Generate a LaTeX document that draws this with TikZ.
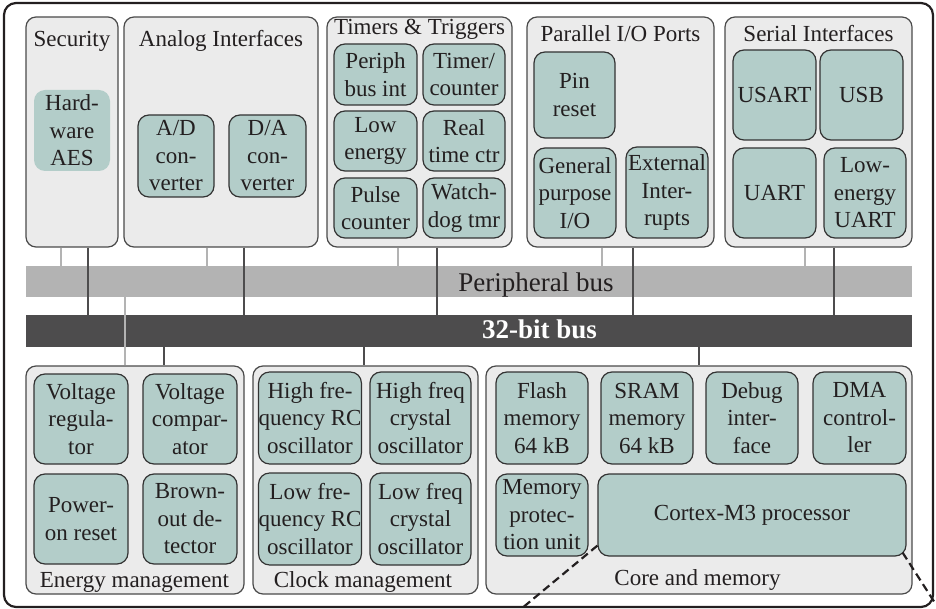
\documentclass[tikz,border=0pt]{standalone}
\usepackage{fontspec}
\setmainfont{Liberation Serif}
\definecolor{grpfill}{HTML}{EBEBEB}
\definecolor{grpline}{HTML}{4A4A4A}
\definecolor{blkfill}{HTML}{B3CDC9}
\definecolor{blkline}{HTML}{333333}
\definecolor{pbusc}{HTML}{B3B3B3}
\definecolor{cbusc}{HTML}{4D4C4D}
\definecolor{inkc}{HTML}{231F20}
\newcommand{\boxfont}{\fontsize{23}{27.5}\selectfont}
\newcommand{\busfont}{\fontsize{27}{31}\selectfont}
\begin{document}
\begin{tikzpicture}[x=1pt,y=-1pt,text=inkc,
  frame/.style={draw=inkc,line width=2.2pt,rounded corners=12pt,inner sep=0pt},
  grp/.style={draw=grpline,fill=grpfill,line width=1.2pt,rounded corners=10pt,inner sep=0pt},
  blk/.style={draw=blkline,fill=blkfill,line width=1.2pt,rounded corners=11pt,inner sep=0pt,align=center,font=\boxfont},
  ttl/.style={anchor=base,inner sep=0pt,font=\boxfont},
  pline/.style={draw=pbusc,line width=2pt},
  cline/.style={draw=cbusc,line width=2pt},
  dashline/.style={draw=inkc,line width=2.2pt,dash pattern=on 8pt off 4.5pt}]
\useasboundingbox (0,0) rectangle (936,609);
\node[frame,minimum width=929,minimum height=604] (chip) at (468.5,305) {};
% peripheral groups
\node[grp,minimum width=92,minimum height=230] (sec) at (72,132) {};
\node[grp,minimum width=194,minimum height=230] (ana) at (221,132) {};
\node[grp,minimum width=185,minimum height=230] (tim) at (419.5,132) {};
\node[grp,minimum width=187,minimum height=230] (par) at (620.5,132) {};
\node[grp,minimum width=187,minimum height=230] (ser) at (818.5,132) {};
\node[ttl] (sect) at (72,47) {Security};
\node[ttl] (anat) at (221,47) {Analog Interfaces};
\node[ttl] (timt) at (419.5,35) {Timers \& Triggers};
\node[ttl] (part) at (620.5,42) {Parallel I/O Ports};
\node[ttl] (sert) at (818.5,42) {Serial Interfaces};
\node[blk,draw=none,minimum width=76,minimum height=81] (aes) at (72,130.5) {Hard-\\ware\\AES};
\node[blk,minimum width=76,minimum height=82] (adc) at (176,156) {A/D\\con-\\verter};
\node[blk,minimum width=77,minimum height=82] (dac) at (267.5,156) {D/A\\con-\\verter};
\node[blk,minimum width=83,minimum height=61] (pbi) at (375.5,74.5) {Periph\\bus int};
\node[blk,minimum width=82,minimum height=61] (tmc) at (464,74.5) {Timer/\\counter};
\node[blk,minimum width=83,minimum height=60] (lew) at (375.5,141) {Low\\energy};
\node[blk,minimum width=82,minimum height=60] (rtc) at (464,141) {Real\\time ctr};
\node[blk,minimum width=83,minimum height=60] (pcn) at (375.5,208) {Pulse\\counter};
\node[blk,minimum width=82,minimum height=60] (wdt) at (464,208) {Watch-\\dog tmr};
\node[blk,minimum width=81,minimum height=86] (pin) at (574.5,95) {Pin\\reset};
\node[blk,minimum width=82,minimum height=90] (gpio) at (575,193) {General\\purpose\\I/O};
\node[blk,minimum width=82,minimum height=91] (ext) at (667,192.5) {External\\Inter-\\rupts};
\node[blk,minimum width=83,minimum height=90] (usart) at (774.5,95) {USART};
\node[blk,minimum width=83,minimum height=90] (usb) at (861.5,95) {USB};
\node[blk,minimum width=83,minimum height=90] (uart) at (774.5,193) {UART};
\node[blk,minimum width=82,minimum height=90] (leu) at (865,193) {Low-\\energy\\UART};
% buses
\node[fill=pbusc,inner sep=0pt,minimum width=886,minimum height=31] (pbus) at (469,281.5) {};
\node[anchor=base,inner sep=0pt,font=\busfont] (pbust) at (536,291) {Peripheral bus};
\node[fill=cbusc,inner sep=0pt,minimum width=886,minimum height=32] (cbus) at (469,331) {};
\node[anchor=base,inner sep=0pt,font=\busfont\bfseries,text=white] (cbust) at (539.5,338) {32-bit bus};
% system groups
\node[grp,minimum width=218,minimum height=228] (eng) at (135,480) {};
\node[grp,minimum width=225,minimum height=228] (clk) at (365.5,480) {};
\node[grp,minimum width=426,minimum height=228] (core) at (699,480) {};
\node[ttl] (engt) at (134.5,587) {Energy management};
\node[ttl] (clkt) at (363,587) {Clock management};
\node[ttl] (coret) at (697.5,585) {Core and memory};
\node[blk,minimum width=94,minimum height=90] (vreg) at (81,419) {Voltage\\regula-\\tor};
\node[blk,minimum width=94,minimum height=90] (vcmp) at (190,419) {Voltage\\compar-\\ator};
\node[blk,minimum width=94,minimum height=90] (por) at (81,519) {Power-\\on reset};
\node[blk,minimum width=94,minimum height=90] (bod) at (190,519) {Brown-\\out de-\\tector};
\node[blk,minimum width=102,minimum height=92] (hfrc) at (310,418) {High fre-\\quency RC\\oscillator};
\node[blk,minimum width=101,minimum height=92] (hfxo) at (420.5,418) {High freq\\crystal\\oscillator};
\node[blk,minimum width=102,minimum height=92] (lfrc) at (310,519) {Low fre-\\quency RC\\oscillator};
\node[blk,minimum width=101,minimum height=92] (lfxo) at (420.5,519) {Low freq\\crystal\\oscillator};
\node[blk,minimum width=92,minimum height=92] (flash) at (542,418) {Flash\\memory\\64 kB};
\node[blk,minimum width=92,minimum height=92] (sram) at (647,418) {SRAM\\memory\\64 kB};
\node[blk,minimum width=92,minimum height=92] (dbg) at (752,418) {Debug\\inter-\\face};
\node[blk,minimum width=93,minimum height=92] (dma) at (859.5,418) {DMA\\control-\\ler};
\node[blk,minimum width=92,minimum height=82] (mpu) at (542,515) {Memory\\protec-\\tion unit};
\node[blk,minimum width=308,minimum height=82] (cpu) at (752,515) {Cortex-M3 processor};
% bus taps
\foreach \g/\x in {sec/61,ana/207,tim/398,par/602,ser/805}
  \draw[pline] (\g.south -| \x,0) -- (pbus.north -| \x,0);
\foreach \g/\x in {sec/88,ana/244,tim/437,par/633,ser/834}
  \draw[cline] (\g.south -| \x,0) -- (cbus.north -| \x,0);
\draw[pline] (pbus.south -| 125,0) -- (eng.north -| 125,0);
\foreach \g/\x in {eng/164,clk/364,core/699}
  \draw[cline] (cbus.south -| \x,0) -- (\g.north -| \x,0);
% zoom lines
\coordinate (zl) at (521,609);
\coordinate (zr) at (935,603);
\draw[dashline] ([yshift=11pt]cpu.south west) -- (zl);
\draw[dashline] ([shift={(-4pt,4pt)}]cpu.south east) -- (zr);
\end{tikzpicture}
\end{document}
